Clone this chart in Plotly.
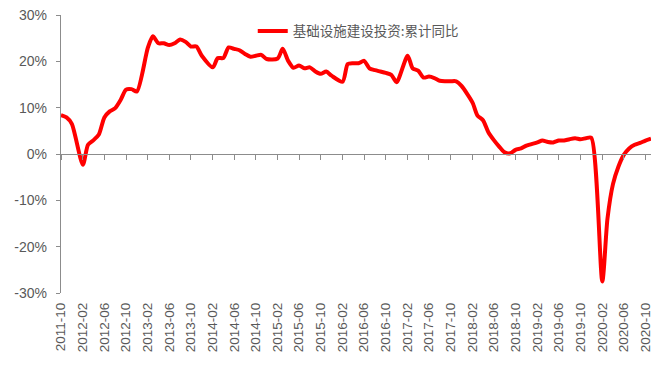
import plotly.graph_objects as go

# Monthly observations (January is not published for cumulative data)
years = list(range(2011, 2021))
months = []
for y in years:
    for m in range(2, 13):
        d = f"{y}-{m:02d}"
        if "2011-10" <= d <= "2020-11":
            months.append(d)

values = [
    8.4, 7.9, 6.5,                                                  # 2011-10..12
    -2.3, 2.0, 3.0, 4.2, 7.9, 9.2, 9.9, 11.7, 13.9, 14.0, 13.5,     # 2012
    23.0, 25.4, 23.9, 23.9, 23.5, 23.9, 24.7, 24.2, 23.2, 23.2, 21.2,  # 2013
    18.7, 20.7, 20.7, 23.0, 22.7, 22.4, 21.6, 21.0, 21.2, 21.4, 20.5,  # 2014
    20.6, 22.7, 20.1, 18.6, 19.1, 18.5, 18.7, 17.8, 17.3, 17.8, 16.9,  # 2015
    15.6, 19.4, 19.6, 19.6, 20.1, 18.5, 18.1, 17.8, 17.5, 17.1, 15.5,  # 2016
    21.2, 18.5, 18.0, 16.5, 16.7, 16.4, 15.8, 15.7, 15.7, 15.7, 14.7,  # 2017
    11.1, 8.3, 7.3, 4.7, 3.0, 1.6, 0.35, 0.15, 0.9, 1.2, 1.8,          # 2018
    2.5, 2.9, 2.6, 2.5, 2.9, 2.9, 3.2, 3.4, 3.2, 3.4, 3.5,             # 2019
    -27.5, -14.0, -6.5, -2.8, -0.2, 1.2, 2.0, 2.4, 2.9, 3.3,           # 2020
]

series_name = "基础设施建设投资:累计同比"
y_tickvals = [-30, -20, -10, 0, 10, 20, 30]
y_ticktext = ["-30%", "-20%", "-10%", "0%", "10%", "20%", "30%"]
x_range = ["2011-10-01", "2020-11-01"]

axis_grey = "#8c8c8c"
text_grey = "#595959"

fig = go.Figure()
fig.add_trace(go.Scatter(
    x=months, y=values, mode="lines", name=series_name,
    line=dict(color="#FF0000", width=4, shape="spline", smoothing=0.7),
))
# helper trace so the zero-line axis (x2) is drawn
fig.add_trace(go.Scatter(
    x=[months[0]], y=[0], xaxis="x2", mode="markers",
    marker=dict(opacity=0), showlegend=False, hoverinfo="skip",
))

fig.update_layout(
    width=664, height=368,
    margin=dict(l=61, r=13, t=15, b=75, autoexpand=False),
    paper_bgcolor="white", plot_bgcolor="white",
    showlegend=True,
    legend=dict(
        orientation="h", x=0.325, y=0.942, xanchor="left", yanchor="middle",
        font=dict(family="Noto Sans CJK SC", size=13.5, color=text_grey),
        bgcolor="rgba(0,0,0,0)",
    ),
    xaxis=dict(
        type="date", range=x_range, tick0="2011-10-01", dtick="M4",
        tickformat="%Y-%m", tickangle=-90, showline=False, ticks="",
        showgrid=False, zeroline=False, automargin=False,
        tickfont=dict(family="Liberation Sans, Arial", size=13.5, color=text_grey),
        ticklabelstandoff=6,
    ),
    xaxis2=dict(
        type="date", range=x_range, tick0="2011-10-01", dtick="M4",
        overlaying="x", anchor="free", position=0.5, side="bottom",
        showticklabels=False, ticks="outside", ticklen=5, tickwidth=1.2,
        tickcolor=axis_grey, showline=True, linecolor=axis_grey,
        linewidth=1.3, showgrid=False, zeroline=False, automargin=False,
    ),
    yaxis=dict(
        range=[-30, 30], tickvals=y_tickvals, ticktext=y_ticktext,
        showline=True, linecolor=axis_grey, linewidth=1.3,
        ticks="outside", ticklen=4, tickcolor=axis_grey,
        showgrid=False, zeroline=False, automargin=False,
        tickfont=dict(family="Liberation Sans, Arial", size=14, color=text_grey),
        ticklabelstandoff=6,
    ),
)

fig.write_html(
    "out.html",
    config={"displayModeBar": False},
    post_script="document.body.style.margin='0';document.body.style.padding='0';",
)
